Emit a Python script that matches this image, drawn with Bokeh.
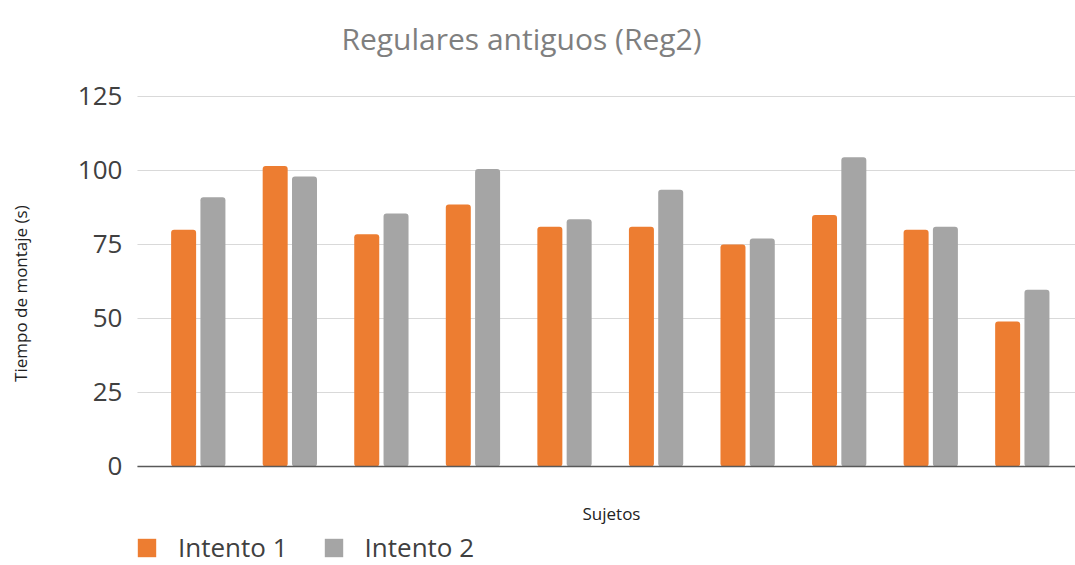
import math
from bokeh.plotting import figure
from bokeh.models import Range1d, Legend, LegendItem, Label, ColumnDataSource
from bokeh.core.properties import value
from bokeh.embed import file_html
from bokeh.resources import INLINE

# Assembly time per subject, two attempts
subjects = list(range(10))
intento_1 = [80, 101.5, 78.5, 88.5, 81, 81, 75, 85, 80, 49]
intento_2 = [91, 98, 85.5, 100.5, 83.5, 93.5, 77, 104.5, 81, 59.7]
y_ticks = [0, 25, 50, 75, 100, 125]
y_tick_labels = ["0", "25", "50", "75", "100", "125"]
series_names = ["Intento 1", "Intento 2"]
colors = ["#ED7D31", "#A5A5A5"]

FONT = "Open Sans"

# The whole canvas is the plotting frame; the value axis, titles and legend
# are laid out in data space around the bar area.
X_START, X_END = -2.160, 9.581
Y_START, Y_END = -33.45, 157.43
AREA_LEFT = -0.664      # left edge of the bar area
TICK_RIGHT = -0.828     # right edge of the tick labels

p = figure(
    width=1075, height=565,
    x_range=Range1d(X_START, X_END),
    y_range=Range1d(Y_START, Y_END),
    output_backend="svg", toolbar_location=None,
    x_axis_type=None, y_axis_type=None,
    min_border=0, outline_line_color=None,
)
p.background_fill_color = "white"
p.border_fill_color = "white"
p.grid.visible = False

# horizontal gridlines
p.segment(x0=AREA_LEFT, x1=X_END, y0=y_ticks, y1=y_ticks,
          line_color="#d9d9d9", line_width=1)

# tick labels
tick_src = ColumnDataSource(dict(y=y_ticks, text=y_tick_labels))
p.text(x=TICK_RIGHT, y="y", text="text", source=tick_src,
       text_align="right", text_baseline="middle",
       text_font=value(FONT), text_font_size="26px", text_color="#404040")

bar_w = 0.273
offset = 0.16
x1 = [s - offset for s in subjects]
x2 = [s + offset for s in subjects]

r1 = p.vbar(x=x1, top=intento_1, bottom=0, width=bar_w,
            fill_color=colors[0], line_color=None, border_radius=3)
r2 = p.vbar(x=x2, top=intento_2, bottom=0, width=bar_w,
            fill_color=colors[1], line_color=None, border_radius=3)

# category baseline
p.segment(x0=AREA_LEFT, x1=X_END, y0=0, y1=0,
          line_color="#595959", line_width=1.5)

# titles
p.add_layout(Label(x=3.530, y=144.76, text="Regulares antiguos (Reg2)",
                   text_align="center", text_baseline="alphabetic",
                   text_font=FONT, text_font_size="30px",
                   text_color="#7f7f7f"))
p.add_layout(Label(x=-1.942, y=58.4, text="Tiempo de montaje (s)",
                   angle=math.pi / 2, text_align="center",
                   text_baseline="middle", text_font=FONT,
                   text_font_size="17px", text_color="#222222"))
p.add_layout(Label(x=4.513, y=-15.9, text="Sujetos", text_align="center",
                   text_baseline="middle", text_font=FONT,
                   text_font_size="17px", text_color="#222222"))

legend = Legend(
    items=[LegendItem(label=series_names[0], renderers=[r1]),
           LegendItem(label=series_names[1], renderers=[r2])],
    orientation="horizontal",
    location=(135, 0),
    border_line_color=None,
    background_fill_alpha=0,
    padding=0, margin=0,
    glyph_width=23, glyph_height=23,
    label_height=23,
    label_standoff=20,
    spacing=34,
    label_text_font=FONT,
    label_text_font_size="26px",
    label_text_color="#404040",
)
p.add_layout(legend, "center")

open("out.html", "w").write(file_html(p, INLINE))
